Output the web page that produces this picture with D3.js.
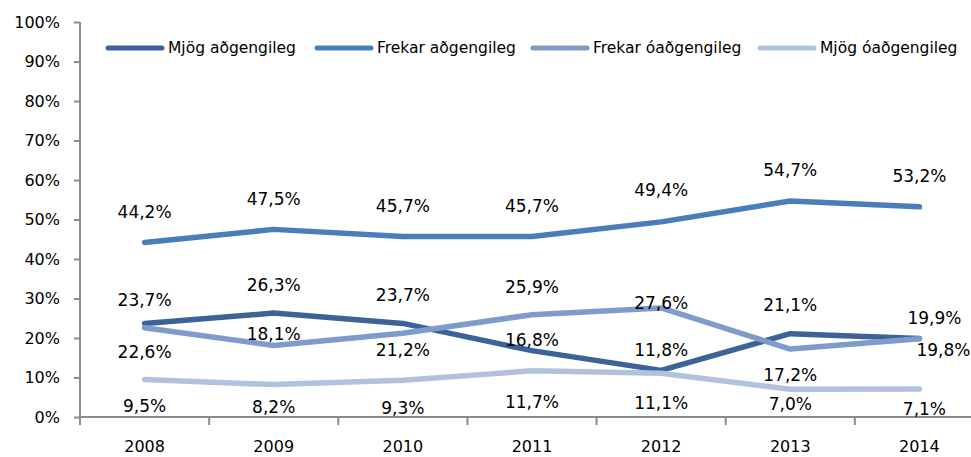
<!DOCTYPE html>
<html>
<head>
<meta charset="utf-8">
<script src="https://cdn.jsdelivr.net/npm/d3@7"></script>
<style>
  body { margin: 0; background: #fff; }
  text { font-family: "DejaVu Sans", sans-serif; fill: #000; }
</style>
</head>
<body>
<div id="chart"></div>
<script>
// data
const years = ["2008", "2009", "2010", "2011", "2012", "2013", "2014"];
const seriesNames = ["Mjög aðgengileg", "Frekar aðgengileg", "Frekar óaðgengileg", "Mjög óaðgengileg"];
const mjogAdg = [23.7, 26.3, 23.7, 16.8, 11.8, 21.1, 19.9];
const frekarAdg = [44.2, 47.5, 45.7, 45.7, 49.4, 54.7, 53.2];
const frekarOadg = [22.6, 18.1, 21.2, 25.9, 27.6, 17.2, 19.8];
const mjogOadg = [9.5, 8.2, 9.3, 11.7, 11.1, 7.0, 7.1];
const yTicks = [0, 10, 20, 30, 40, 50, 60, 70, 80, 90, 100];

// label nudges (px from the point), kept apart from the values
const labelDy = [
  [-23, -28, -28, -11, -20, -29, -20],
  [-30, -30, -30, -30, -32, -31, -31],
  [24, -12, 17, -28, -5, 26, 11],
  [27, 22, 28, 31, 30, 15, 20]
];
const labelDx = [
  [0, 0, 0, 0, 0, 0, 15],
  [0, 0, 0, 0, 0, 0, 0],
  [0, 0, 0, 0, 0, 0, 24],
  [0, 0, 0, 0, 0, 0, 5]
];

const colors = ["#3b6397", "#4a7dbb", "#7e9bcc", "#b0c2de"];
const allSeries = [mjogAdg, frekarAdg, frekarOadg, mjogOadg];

const W = 971, H = 457;
const margin = {top: 22, right: -13, bottom: 40, left: 80};
const width = W - margin.left - margin.right,
      height = H - margin.top - margin.bottom;

const svg = d3.select("#chart").append("svg")
    .attr("width", W).attr("height", H)
  .append("g")
    .attr("transform", `translate(${margin.left}, ${margin.top})`);

const x = d3.scaleBand().domain(years).range([0, width]);
const y = d3.scaleLinear().domain([0, 100]).range([height, 0]);
const fmt = v => v.toFixed(1).replace(".", ",") + "%";

// y axis
const yAxis = svg.append("g")
  .call(d3.axisLeft(y).tickValues(yTicks).tickFormat(d => d + "%").tickSize(6).tickSizeOuter(0));
yAxis.select(".domain").attr("stroke", "#8c8c8c").attr("stroke-width", 2)
  .attr("d", `M0,${y(100)}V${height + 8}`);
yAxis.selectAll(".tick line").attr("stroke", "#8c8c8c").attr("stroke-width", 2);
yAxis.selectAll(".tick text").attr("x", -20).style("font-size", "16px")
  .style("font-family", "DejaVu Sans, sans-serif").attr("fill", "#000");

// x axis with ticks between categories
const xAxis = svg.append("g").attr("transform", `translate(0, ${height})`);
xAxis.append("line").attr("x1", 0).attr("x2", width)
  .attr("stroke", "#8c8c8c").attr("stroke-width", 2);
xAxis.selectAll(".sep").data(years.slice(1)).join("line")
  .attr("x1", d => x(d)).attr("x2", d => x(d))
  .attr("y1", 0).attr("y2", 8)
  .attr("stroke", "#8c8c8c").attr("stroke-width", 2);
xAxis.selectAll(".yl").data(years).join("text")
  .attr("x", d => x(d) + x.bandwidth() / 2)
  .attr("y", 29)
  .attr("text-anchor", "middle")
  .attr("dominant-baseline", "central")
  .style("font-size", "16px")
  .text(d => d);

// lines
const line = d3.line()
  .x((d, i) => x(years[i]) + x.bandwidth() / 2)
  .y(d => y(d));

// series order like Excel: later series drawn on top
allSeries.forEach((vals, s) => {
  svg.append("path")
    .datum(vals)
    .attr("d", line)
    .attr("fill", "none")
    .attr("stroke", colors[s])
    .attr("stroke-width", 5.5)
    .attr("stroke-linejoin", "round")
    .attr("stroke-linecap", "round");
});

// data labels
allSeries.forEach((vals, s) => {
  svg.selectAll(".lab" + s).data(vals).join("text")
    .attr("x", (d, i) => x(years[i]) + x.bandwidth() / 2 + labelDx[s][i])
    .attr("y", (d, i) => y(d) + labelDy[s][i])
    .attr("text-anchor", "middle")
    .attr("dominant-baseline", "central")
    .style("font-size", "17px")
    .text(d => fmt(d));
});

// legend
const legendX = [108, 317, 533, 760];
const legend = svg.append("g").attr("transform", `translate(${-margin.left}, ${48 - margin.top})`);
seriesNames.forEach((name, s) => {
  legend.append("line")
    .attr("x1", legendX[s]).attr("x2", legendX[s] + 54)
    .attr("stroke", colors[s]).attr("stroke-width", 5)
    .attr("stroke-linecap", "round");
  legend.append("text")
    .attr("x", legendX[s] + 60).attr("y", 0)
    .attr("dominant-baseline", "central")
    .style("font-size", "15.5px")
    .text(name);
});
</script>
</body>
</html>
